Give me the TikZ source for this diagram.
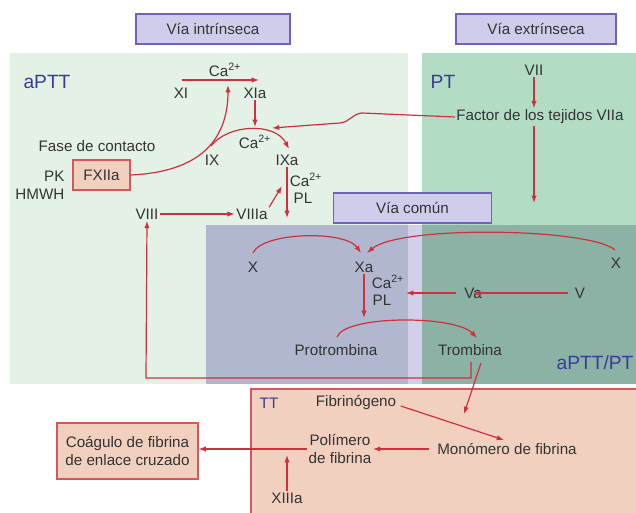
\documentclass[tikz,border=0pt]{standalone}
\usepackage{fontspec}
\setmainfont{Liberation Sans}
\usetikzlibrary{arrows.meta}
\definecolor{lgreen}{HTML}{E3F1E7}
\definecolor{ptgreen}{HTML}{B2DDC4}
\definecolor{grayblue}{HTML}{B0B7CF}
\definecolor{lavstrip}{HTML}{D2CFEB}
\definecolor{teal}{HTML}{8BB2A5}
\definecolor{salmon}{HTML}{F2D0C0}
\definecolor{boxred}{HTML}{D9555E}
\definecolor{titlefill}{HTML}{D0CCEC}
\definecolor{titledraw}{HTML}{6E64BE}
\definecolor{arrred}{HTML}{D0303E}
\definecolor{txt}{HTML}{333333}
\definecolor{labblue}{HTML}{3A3A9A}
\begin{document}
\begin{tikzpicture}[x=0.75pt,y=-0.75pt,
  lbl/.style={inner sep=1pt, text=txt, font=\fontsize{11.4}{13}\selectfont},
  biglbl/.style={inner sep=1pt, text=labblue, font=\fontsize{14.4}{16}\selectfont},
  titlebox/.style={draw=titledraw, fill=titlefill, line width=0.8pt, text=txt, font=\fontsize{11.4}{13}\selectfont, minimum height=22.5pt, inner sep=0pt},
  redbox/.style={draw=boxred, fill=salmon, line width=0.8pt, text=txt, font=\fontsize{11.4}{13}\selectfont, inner sep=0pt, align=center},
  arr/.style={draw=arrred, line width=0.9pt, -{Latex[length=5.5pt,width=4pt]}},
  ln/.style={draw=arrred, line width=0.9pt}]
\useasboundingbox (0,0) rectangle (636,513);
\fill[white] (0,0) rectangle (636,513);
% regions
\fill[lgreen] (10,53) rectangle (408,225);
\fill[lgreen] (10,225) rectangle (206,384);
\fill[grayblue] (206,225) rectangle (408,384);
\fill[lavstrip] (408,225) rectangle (422,384);
\fill[ptgreen] (422,53) rectangle (636,225);
\fill[teal] (422,225) rectangle (636,384);
\filldraw[fill=salmon, draw=boxred, line width=0.8pt] (251,389) rectangle (645,520);
% title boxes
\node[titlebox, minimum width=115.5pt] (vi) at (213,29) {Vía intrínseca};
\node[titlebox, minimum width=120pt] (ve) at (536,29) {Vía extrínseca};
\node[titlebox, minimum width=119pt] (vc) at (412.5,208) {Vía común};
% region labels
\node[biglbl] (aptt) at (47,82) {aPTT};
\node[biglbl] (pt) at (443,82) {PT};
\node[biglbl, anchor=east] (apttpt) at (635,363) {aPTT/PT};
\node[lbl, text=labblue] (tt) at (269,403) {TT};
% intrinsic
\node[lbl] (fase) at (97,146) {Fase de contacto};
\node[redbox, minimum width=42.75pt, minimum height=22.5pt] (fxiia) at (101.5,175) {FXIIa};
\node[lbl, anchor=east] (pk) at (66,176) {PK};
\node[lbl, anchor=east] (hmwh) at (66,194) {HMWH};
\node[lbl] (ca1) at (225,70) {Ca\textsuperscript{2+}};
\node[lbl] (xi) at (181,93) {XI};
\node[lbl] (xia) at (255,93) {XIa};
\node[lbl] (ix) at (212,160) {IX};
\node[lbl] (ca2) at (255,142) {Ca\textsuperscript{2+}};
\node[lbl] (ixa) at (287,160) {IXa};
\node[lbl] (ca3) at (306,180) {Ca\textsuperscript{2+}};
\node[lbl] (pl1) at (303,198) {PL};
\node[lbl] (viii) at (147,214) {VIII};
\node[lbl] (viiia) at (252,214) {VIIIa};
% extrinsic
\node[lbl] (vii) at (534,70) {VII};
\node[lbl] (ft) at (540,117) {Factor de los tejidos VIIa};
% common
\node[lbl] (xl) at (253,267) {X};
\node[lbl] (xa) at (364,267) {Xa};
\node[lbl] (xr) at (616,263) {X};
\node[lbl] (ca4) at (388,282) {Ca\textsuperscript{2+}};
\node[lbl] (pl2) at (382,300) {PL};
\node[lbl] (va) at (473,293) {Va};
\node[lbl] (v) at (580,293) {V};
\node[lbl] (protr) at (336,350) {Protrombina};
\node[lbl] (tromb) at (470,350) {Trombina};
% TT
\node[lbl] (fibg) at (356,402) {Fibrinógeno};
\node[lbl] (mono) at (507,449) {Monómero de fibrina};
\node[lbl, align=center] (poli) at (340,449) {Polímero\\de fibrina};
\node[lbl] (xiiia) at (287,498) {XIIIa};
\node[redbox, minimum width=105.75pt, minimum height=42pt] (coag) at (127.5,451) {Coágulo de fibrina\\de enlace cruzado};
% coordinates
\coordinate (a1) at (182,80);
\coordinate (a2) at (259,80);
\coordinate (c1) at (228,85);
\coordinate (ixs) at (211,146);
\coordinate (ixe) at (289,149);
\coordinate (xiab) at (255,127);
\coordinate (ftl) at (272,128);
\coordinate (ixad) at (287,218);
\coordinate (viiiu) at (282,186);
\coordinate (xls) at (253,253);
\coordinate (xle) at (361,253);
\coordinate (xrs) at (615,250);
\coordinate (xre) at (367,253);
\coordinate (xad) at (364,318);
\coordinate (pls) at (337,337);
\coordinate (ple) at (477,338);
\coordinate (fbs) at (471,362);
\coordinate (fbc) at (146,378);
\coordinate (vaa) at (406,293);
\coordinate (ftd) at (534,203);
\coordinate (trs) at (481,363);
\coordinate (tre) at (464,414);
\coordinate (xiiiu) at (287,455);
% arrows intrinsic
\draw[arr] (a1) -- (a2);
\draw[arr] (fxiia.east) .. controls (200,172) and (228,140) .. (c1);
\draw[arr] (xia.south) -- (xiab);
\draw[arr] (ixs) .. controls (228,124) and (275,122) .. (ixe);
\draw[arr] (ft.west) -- (362,113) .. controls (352,114) and (350,122) .. (340,123) -- (ftl);
\draw[arr] (ixa.south) -- (ixad);
\draw[arr] (viii.east) -- (viiia.west);
\draw[arr] (viiia.north east) -- (viiiu);
% extrinsic
\draw[arr] (vii.south) -- (ft.north -| vii);
\draw[arr] (ft.south -| vii) -- (ftd);
% common
\draw[arr] (xls) .. controls (262,232) and (345,230) .. (xle);
\draw[arr] (xrs) .. controls (590,228) and (400,225) .. (xre);
\draw[arr] (xa.south) -- (xad);
\draw[arr] (v.west) ++(-5,0) -- ([xshift=-8pt]va.east);
\draw[arr] ([xshift=-5pt]va.west) -- (vaa);
\draw[arr] (pls) .. controls (345,315) and (455,315) .. (ple);
\draw[arr] (fbs) |- (fbc) -- (viii.south);
\draw[arr] (trs) -- (tre);
% TT
\draw[arr] (fibg.east) ++(3,4) -- (504,440);
\draw[arr] ([xshift=-5pt]mono.west) -- (poli.east);
\draw[arr] (poli.west) -- (poli.west -| coag.east);
\draw[arr] (xiiia.north) -- (xiiiu);
\end{tikzpicture}
\end{document}
